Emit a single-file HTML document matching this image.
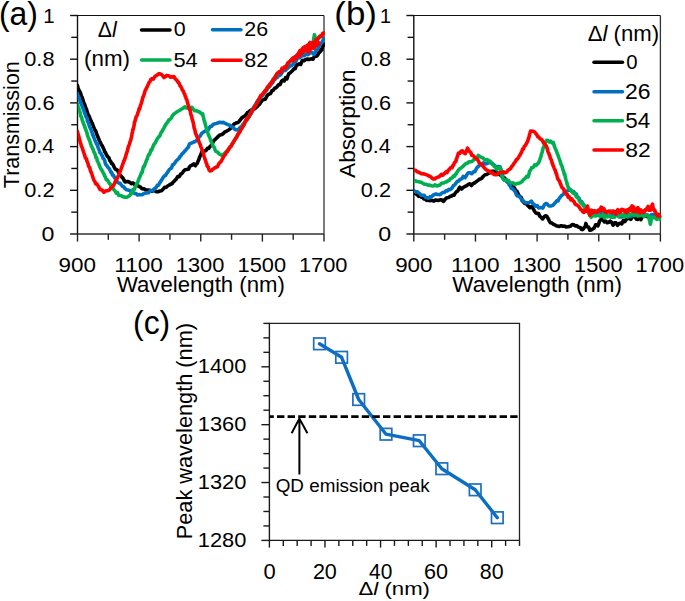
<!DOCTYPE html><html><head><meta charset="utf-8"><style>html,body{margin:0;padding:0;background:#fff;overflow:hidden}svg{display:block}text{font-family:"Liberation Sans",sans-serif}</style></head><body><svg width="685" height="601" viewBox="0 0 685 601"><rect width="685" height="601" fill="#fff"/><path d="M77.5,15.5 H324.0" stroke="#111" stroke-width="1.2" fill="none"/>
<path d="M324.0,15.5 V234.0" stroke="#333" stroke-width="1.3" fill="none"/>
<path d="M77.5,14.9 V234.0" stroke="#111" stroke-width="1.4" fill="none"/>
<path d="M77.5,234.0 H324.0" stroke="#333" stroke-width="1.5" fill="none"/>
<path d="M70.1,234.00 H77.5" stroke="#111" stroke-width="1.4" fill="none"/>
<path d="M71.3,212.15 H77.5" stroke="#111" stroke-width="1.4" fill="none"/>
<path d="M70.1,190.30 H77.5" stroke="#111" stroke-width="1.4" fill="none"/>
<path d="M71.3,168.45 H77.5" stroke="#111" stroke-width="1.4" fill="none"/>
<path d="M70.1,146.60 H77.5" stroke="#111" stroke-width="1.4" fill="none"/>
<path d="M71.3,124.75 H77.5" stroke="#111" stroke-width="1.4" fill="none"/>
<path d="M70.1,102.90 H77.5" stroke="#111" stroke-width="1.4" fill="none"/>
<path d="M71.3,81.05 H77.5" stroke="#111" stroke-width="1.4" fill="none"/>
<path d="M70.1,59.20 H77.5" stroke="#111" stroke-width="1.4" fill="none"/>
<path d="M71.3,37.35 H77.5" stroke="#111" stroke-width="1.4" fill="none"/>
<path d="M70.1,15.50 H77.5" stroke="#111" stroke-width="1.4" fill="none"/>
<path d="M77.50,234.0 V241.6" stroke="#222" stroke-width="1.4" fill="none"/>
<path d="M108.31,234.0 V239.8" stroke="#222" stroke-width="1.4" fill="none"/>
<path d="M139.12,234.0 V241.6" stroke="#222" stroke-width="1.4" fill="none"/>
<path d="M169.94,234.0 V239.8" stroke="#222" stroke-width="1.4" fill="none"/>
<path d="M200.75,234.0 V241.6" stroke="#222" stroke-width="1.4" fill="none"/>
<path d="M231.56,234.0 V239.8" stroke="#222" stroke-width="1.4" fill="none"/>
<path d="M262.38,234.0 V241.6" stroke="#222" stroke-width="1.4" fill="none"/>
<path d="M293.19,234.0 V239.8" stroke="#222" stroke-width="1.4" fill="none"/>
<path d="M324.00,234.0 V241.6" stroke="#222" stroke-width="1.4" fill="none"/>
<path d="M413.8,15.5 H660.4" stroke="#111" stroke-width="1.2" fill="none"/>
<path d="M660.4,15.5 V234.0" stroke="#333" stroke-width="1.3" fill="none"/>
<path d="M413.8,14.9 V234.0" stroke="#111" stroke-width="1.4" fill="none"/>
<path d="M413.8,234.0 H660.4" stroke="#333" stroke-width="1.5" fill="none"/>
<path d="M406.40000000000003,234.00 H413.8" stroke="#111" stroke-width="1.4" fill="none"/>
<path d="M407.6,212.15 H413.8" stroke="#111" stroke-width="1.4" fill="none"/>
<path d="M406.40000000000003,190.30 H413.8" stroke="#111" stroke-width="1.4" fill="none"/>
<path d="M407.6,168.45 H413.8" stroke="#111" stroke-width="1.4" fill="none"/>
<path d="M406.40000000000003,146.60 H413.8" stroke="#111" stroke-width="1.4" fill="none"/>
<path d="M407.6,124.75 H413.8" stroke="#111" stroke-width="1.4" fill="none"/>
<path d="M406.40000000000003,102.90 H413.8" stroke="#111" stroke-width="1.4" fill="none"/>
<path d="M407.6,81.05 H413.8" stroke="#111" stroke-width="1.4" fill="none"/>
<path d="M406.40000000000003,59.20 H413.8" stroke="#111" stroke-width="1.4" fill="none"/>
<path d="M407.6,37.35 H413.8" stroke="#111" stroke-width="1.4" fill="none"/>
<path d="M406.40000000000003,15.50 H413.8" stroke="#111" stroke-width="1.4" fill="none"/>
<path d="M413.80,234.0 V241.6" stroke="#222" stroke-width="1.4" fill="none"/>
<path d="M444.62,234.0 V239.8" stroke="#222" stroke-width="1.4" fill="none"/>
<path d="M475.45,234.0 V241.6" stroke="#222" stroke-width="1.4" fill="none"/>
<path d="M506.27,234.0 V239.8" stroke="#222" stroke-width="1.4" fill="none"/>
<path d="M537.10,234.0 V241.6" stroke="#222" stroke-width="1.4" fill="none"/>
<path d="M567.92,234.0 V239.8" stroke="#222" stroke-width="1.4" fill="none"/>
<path d="M598.75,234.0 V241.6" stroke="#222" stroke-width="1.4" fill="none"/>
<path d="M629.58,234.0 V239.8" stroke="#222" stroke-width="1.4" fill="none"/>
<path d="M660.40,234.0 V241.6" stroke="#222" stroke-width="1.4" fill="none"/>
<path d="M269.4,323.4 H519.5 V540.4" stroke="#222" stroke-width="1.3" fill="none"/>
<path d="M269.4,322.7 V540.4 H519.5" stroke="#1a1a1a" stroke-width="1.4" fill="none"/>
<path d="M261.4,540.40 H269.4" stroke="#1a1a1a" stroke-width="1.4" fill="none"/>
<path d="M263.4,525.93 H269.4" stroke="#1a1a1a" stroke-width="1.4" fill="none"/>
<path d="M263.4,511.47 H269.4" stroke="#1a1a1a" stroke-width="1.4" fill="none"/>
<path d="M263.4,497.00 H269.4" stroke="#1a1a1a" stroke-width="1.4" fill="none"/>
<path d="M261.4,482.53 H269.4" stroke="#1a1a1a" stroke-width="1.4" fill="none"/>
<path d="M263.4,468.07 H269.4" stroke="#1a1a1a" stroke-width="1.4" fill="none"/>
<path d="M263.4,453.60 H269.4" stroke="#1a1a1a" stroke-width="1.4" fill="none"/>
<path d="M263.4,439.13 H269.4" stroke="#1a1a1a" stroke-width="1.4" fill="none"/>
<path d="M261.4,424.67 H269.4" stroke="#1a1a1a" stroke-width="1.4" fill="none"/>
<path d="M263.4,410.20 H269.4" stroke="#1a1a1a" stroke-width="1.4" fill="none"/>
<path d="M263.4,395.73 H269.4" stroke="#1a1a1a" stroke-width="1.4" fill="none"/>
<path d="M263.4,381.27 H269.4" stroke="#1a1a1a" stroke-width="1.4" fill="none"/>
<path d="M261.4,366.80 H269.4" stroke="#1a1a1a" stroke-width="1.4" fill="none"/>
<path d="M263.4,352.33 H269.4" stroke="#1a1a1a" stroke-width="1.4" fill="none"/>
<path d="M263.4,337.87 H269.4" stroke="#1a1a1a" stroke-width="1.4" fill="none"/>
<path d="M263.4,323.40 H269.4" stroke="#1a1a1a" stroke-width="1.4" fill="none"/>
<path d="M269.40,540.4 V547.6" stroke="#1a1a1a" stroke-width="1.4" fill="none"/>
<path d="M283.29,540.4 V545.9" stroke="#1a1a1a" stroke-width="1.4" fill="none"/>
<path d="M297.19,540.4 V545.9" stroke="#1a1a1a" stroke-width="1.4" fill="none"/>
<path d="M311.08,540.4 V545.9" stroke="#1a1a1a" stroke-width="1.4" fill="none"/>
<path d="M324.98,540.4 V547.6" stroke="#1a1a1a" stroke-width="1.4" fill="none"/>
<path d="M338.87,540.4 V545.9" stroke="#1a1a1a" stroke-width="1.4" fill="none"/>
<path d="M352.77,540.4 V545.9" stroke="#1a1a1a" stroke-width="1.4" fill="none"/>
<path d="M366.66,540.4 V545.9" stroke="#1a1a1a" stroke-width="1.4" fill="none"/>
<path d="M380.56,540.4 V547.6" stroke="#1a1a1a" stroke-width="1.4" fill="none"/>
<path d="M394.45,540.4 V545.9" stroke="#1a1a1a" stroke-width="1.4" fill="none"/>
<path d="M408.34,540.4 V545.9" stroke="#1a1a1a" stroke-width="1.4" fill="none"/>
<path d="M422.24,540.4 V545.9" stroke="#1a1a1a" stroke-width="1.4" fill="none"/>
<path d="M436.13,540.4 V547.6" stroke="#1a1a1a" stroke-width="1.4" fill="none"/>
<path d="M450.03,540.4 V545.9" stroke="#1a1a1a" stroke-width="1.4" fill="none"/>
<path d="M463.92,540.4 V545.9" stroke="#1a1a1a" stroke-width="1.4" fill="none"/>
<path d="M477.82,540.4 V545.9" stroke="#1a1a1a" stroke-width="1.4" fill="none"/>
<path d="M491.71,540.4 V547.6" stroke="#1a1a1a" stroke-width="1.4" fill="none"/>
<path d="M505.61,540.4 V545.9" stroke="#1a1a1a" stroke-width="1.4" fill="none"/>
<path d="M519.50,540.4 V545.9" stroke="#1a1a1a" stroke-width="1.4" fill="none"/>
<defs><clipPath id="ca"><rect x="77.6" y="0" width="247.4" height="234"/></clipPath><clipPath id="cb"><rect x="413.9" y="0" width="247.4" height="234"/></clipPath></defs>
<g clip-path="url(#ca)">
<path d="M77.40,85.40 L78.05,87.78 L78.70,89.59 L79.35,90.63 L80.00,91.95 L80.65,93.52 L81.30,95.82 L81.86,96.81 L82.43,98.12 L82.99,100.45 L83.55,101.94 L84.12,103.66 L84.68,104.45 L85.25,106.43 L85.81,107.91 L86.37,108.71 L86.94,111.25 L87.50,112.66 L88.20,115.31 L88.90,115.82 L89.60,117.26 L90.30,119.56 L91.00,120.65 L91.70,122.62 L92.40,123.60 L93.10,125.50 L93.80,127.51 L94.49,128.98 L95.18,130.33 L95.87,131.36 L96.56,133.76 L97.24,135.21 L97.93,137.16 L98.62,138.54 L99.31,140.61 L100.00,141.67 L100.79,143.36 L101.58,145.16 L102.36,145.84 L103.15,147.75 L103.94,149.26 L104.72,152.07 L105.51,152.59 L106.30,154.53 L107.19,156.00 L108.07,157.03 L108.96,157.88 L109.84,160.63 L110.73,161.42 L111.61,163.47 L112.50,163.95 L113.55,165.76 L114.60,168.00 L115.65,169.47 L116.70,169.48 L117.75,170.85 L118.80,172.88 L119.83,174.66 L120.87,175.78 L121.90,177.25 L122.93,178.01 L123.97,180.19 L125.00,181.86 L126.58,181.58 L128.15,181.58 L129.73,182.42 L131.30,183.68 L132.87,182.97 L134.43,184.32 L136.00,184.40 L137.50,185.58 L139.00,186.28 L140.50,187.16 L142.00,188.65 L144.00,188.84 L146.00,190.03 L148.00,190.03 L150.00,190.36 L152.00,191.29 L154.00,190.18 L156.00,191.58 L158.00,191.68 L160.00,190.98 L161.53,190.80 L163.07,189.25 L164.60,187.27 L166.07,187.39 L167.53,186.01 L169.00,185.24 L170.47,184.22 L171.93,183.73 L173.40,181.95 L174.83,180.42 L176.27,179.16 L177.70,176.59 L179.20,176.67 L180.70,174.06 L182.13,173.35 L183.57,171.10 L185.00,169.71 L188.00,169.30 L188.70,169.00 L189.40,166.95 L190.87,165.56 L192.33,164.99 L193.80,163.82 L195.30,165.78 L196.27,164.08 L197.23,163.29 L198.20,160.82 L198.83,159.63 L199.47,157.68 L200.10,156.04 L200.73,155.06 L201.37,153.06 L202.00,151.59 L204.00,151.24 L206.00,150.57 L207.33,148.41 L208.67,148.47 L210.00,146.42 L211.00,145.59 L212.00,144.91 L213.00,142.18 L214.00,140.42 L215.33,139.35 L216.67,137.94 L218.00,136.61 L220.00,134.92 L222.00,134.54 L223.33,133.54 L224.67,132.09 L226.00,131.46 L227.33,130.73 L228.67,130.02 L230.00,128.80 L231.33,127.61 L232.67,125.80 L234.00,124.07 L236.00,123.05 L238.00,122.51 L239.33,121.16 L240.67,119.41 L242.00,117.72 L243.33,116.82 L244.67,116.17 L246.00,114.68 L247.33,112.76 L248.67,112.18 L250.00,110.57 L251.43,109.93 L252.87,109.79 L254.30,108.91 L255.65,108.01 L257.00,106.78 L258.35,105.19 L259.70,104.06 L261.07,101.78 L262.45,100.14 L263.82,99.60 L265.20,99.34 L266.55,96.83 L267.90,94.72 L269.25,94.07 L270.60,93.31 L271.95,90.73 L273.30,90.30 L274.65,88.24 L276.00,87.84 L277.38,86.22 L278.75,84.60 L280.12,84.68 L281.50,81.37 L282.85,80.03 L284.20,80.93 L285.55,77.62 L286.90,78.96 L287.93,75.77 L288.97,73.57 L290.00,73.00 L291.33,71.77 L292.67,70.49 L294.00,68.85 L295.25,68.61 L296.50,64.64 L297.75,64.81 L299.00,63.79 L300.67,64.46 L302.33,60.41 L304.00,60.73 L305.67,59.42 L307.33,59.13 L309.00,59.51 L311.00,58.83 L313.00,59.15 L314.33,56.52 L315.67,56.21 L317.00,55.94 L318.00,54.47 L319.00,52.23 L320.00,52.15 L321.00,49.26 L321.75,49.94 L322.50,47.12 L323.25,45.41 L324.00,44.00" stroke="#000000" stroke-width="3.6" fill="none" stroke-linejoin="round" stroke-linecap="round"/>
<path d="M77.40,93.80 L78.05,96.70 L78.70,96.94 L79.35,99.20 L80.00,100.81 L80.65,102.88 L81.30,103.50 L81.86,105.50 L82.43,106.84 L82.99,108.19 L83.55,109.81 L84.12,111.49 L84.68,113.11 L85.25,114.31 L85.81,116.48 L86.37,117.51 L86.94,117.69 L87.50,121.40 L88.07,122.12 L88.65,123.46 L89.22,125.49 L89.79,126.99 L90.36,128.42 L90.94,129.48 L91.51,131.52 L92.08,132.18 L92.65,135.19 L93.23,135.35 L93.80,137.40 L94.49,139.13 L95.18,140.85 L95.87,142.24 L96.56,144.23 L97.24,143.79 L97.93,147.12 L98.62,148.71 L99.31,150.20 L100.00,152.80 L100.79,153.11 L101.58,155.12 L102.36,155.70 L103.15,158.42 L103.94,159.03 L104.72,160.62 L105.51,164.16 L106.30,164.89 L107.19,166.02 L108.07,167.59 L108.96,168.26 L109.84,169.95 L110.73,172.18 L111.61,172.38 L112.50,175.07 L113.55,175.44 L114.60,177.76 L115.65,178.52 L116.70,181.36 L117.75,182.37 L118.80,182.97 L120.04,183.32 L121.28,184.92 L122.52,186.33 L123.76,186.89 L125.00,188.58 L126.58,189.74 L128.15,190.01 L129.73,190.61 L131.30,192.03 L132.90,192.18 L134.50,193.47 L136.00,193.45 L137.50,195.00 L139.00,194.62 L140.50,194.80 L142.00,194.81 L143.50,193.86 L145.00,193.13 L146.50,192.97 L148.50,192.68 L150.50,190.47 L152.50,190.81 L153.70,189.56 L154.90,188.36 L156.10,187.64 L157.30,185.37 L158.50,185.17 L159.48,183.22 L160.47,181.89 L161.45,180.23 L162.43,178.67 L163.42,177.07 L164.40,176.05 L165.40,175.66 L166.40,173.88 L167.40,172.53 L168.40,171.13 L169.40,169.35 L170.40,168.65 L171.53,167.90 L172.65,164.70 L173.78,164.27 L174.90,162.86 L175.90,161.24 L176.90,160.25 L177.90,159.31 L178.90,158.48 L179.90,156.77 L180.90,155.70 L182.10,153.83 L183.30,152.88 L184.50,151.35 L185.70,150.21 L186.90,148.63 L187.68,147.81 L188.45,146.80 L189.22,144.59 L190.00,143.40 L192.00,142.94 L194.00,141.98 L195.33,141.55 L196.67,140.30 L198.00,138.68 L199.00,137.08 L200.00,136.29 L201.00,134.57 L202.00,133.14 L203.77,131.84 L205.53,130.95 L207.30,129.18 L208.63,129.35 L209.97,126.85 L211.30,126.51 L213.07,124.51 L214.83,123.85 L216.60,123.36 L218.28,122.74 L219.95,122.28 L221.62,122.76 L223.30,122.33 L225.30,123.48 L227.30,124.42 L229.30,125.17 L231.30,126.35 L232.63,127.22 L233.97,128.37 L235.30,129.67 L238.00,129.90 L239.30,128.24 L240.60,126.98 L241.68,126.57 L242.76,124.65 L243.84,123.33 L244.92,121.99 L246.00,120.79 L247.00,119.19 L248.00,118.33 L249.00,116.78 L250.00,113.57 L250.72,113.43 L251.43,113.48 L252.15,109.85 L252.87,109.06 L253.58,108.04 L254.30,106.00 L255.44,105.17 L256.58,102.36 L257.72,100.87 L258.86,99.90 L260.00,98.13 L261.04,96.66 L262.08,96.18 L263.12,94.73 L264.16,93.30 L265.20,91.80 L266.28,90.73 L267.36,89.14 L268.44,87.43 L269.52,86.66 L270.60,85.19 L271.68,83.66 L272.76,82.59 L273.84,80.31 L274.92,79.41 L276.00,77.84 L277.25,77.49 L278.50,75.80 L279.75,75.33 L281.00,74.26 L282.48,71.70 L283.95,70.12 L285.42,70.39 L286.90,68.77 L288.42,67.62 L289.95,65.65 L291.48,65.73 L293.00,64.15 L294.25,63.07 L295.50,61.75 L296.75,59.53 L298.00,57.21 L299.50,57.78 L301.00,56.49 L302.50,55.58 L304.00,55.77 L306.00,54.17 L308.00,54.71 L310.00,52.90 L312.00,52.55 L314.00,54.41 L315.00,53.14 L316.00,49.99 L317.00,50.37 L318.00,48.09 L319.00,45.55 L320.00,45.16 L321.00,43.28 L322.00,42.36 L323.00,40.25 L324.00,38.00" stroke="#0070c0" stroke-width="3.6" fill="none" stroke-linejoin="round" stroke-linecap="round"/>
<path d="M77.40,104.20 L77.89,105.81 L78.38,107.95 L78.86,108.42 L79.35,110.95 L79.84,111.88 L80.33,113.44 L80.81,116.09 L81.30,116.78 L81.82,118.24 L82.33,120.18 L82.85,121.94 L83.37,122.92 L83.88,124.79 L84.40,125.56 L84.92,127.42 L85.43,128.95 L85.95,130.06 L86.47,131.53 L86.98,133.03 L87.50,135.28 L88.07,136.83 L88.65,138.28 L89.22,139.99 L89.79,140.80 L90.36,142.95 L90.94,144.63 L91.51,146.40 L92.08,147.12 L92.65,148.86 L93.23,149.57 L93.80,151.85 L94.49,152.62 L95.18,154.63 L95.87,157.52 L96.56,157.49 L97.24,160.61 L97.93,162.00 L98.62,163.30 L99.31,165.31 L100.00,166.96 L100.79,168.79 L101.58,169.71 L102.36,171.09 L103.15,172.65 L103.94,174.02 L104.72,176.05 L105.51,177.24 L106.30,179.73 L107.33,179.82 L108.37,181.75 L109.40,183.37 L110.43,184.35 L111.47,187.90 L112.50,187.30 L113.76,189.66 L115.02,190.84 L116.28,193.23 L117.54,192.71 L118.80,195.54 L120.73,195.47 L122.67,196.59 L124.60,197.16 L126.80,197.32 L129.00,195.93 L129.92,195.13 L130.83,194.01 L131.75,193.42 L132.67,189.96 L133.58,190.60 L134.50,188.97 L135.25,186.66 L136.00,185.45 L136.75,183.47 L137.50,182.92 L138.25,180.60 L139.00,178.79 L139.64,177.29 L140.29,175.80 L140.93,174.31 L141.57,172.46 L142.21,172.43 L142.86,168.94 L143.50,166.60 L144.06,166.84 L144.62,165.33 L145.19,164.09 L145.75,162.30 L146.31,160.83 L146.88,159.57 L147.44,158.38 L148.00,156.18 L148.75,154.71 L149.50,154.37 L150.25,152.17 L151.00,149.91 L151.75,150.06 L152.50,147.79 L153.40,145.63 L154.30,143.85 L155.20,143.11 L156.10,141.06 L157.00,139.47 L157.90,137.85 L158.80,136.75 L159.70,136.05 L160.60,133.78 L161.50,131.78 L162.22,131.33 L162.95,129.53 L163.68,128.42 L164.40,127.10 L165.53,124.92 L166.65,123.43 L167.78,121.98 L168.90,119.93 L170.03,119.33 L171.15,118.19 L172.28,116.09 L173.40,114.38 L174.90,113.42 L176.40,112.21 L177.90,111.25 L179.40,110.50 L181.17,109.25 L182.93,108.41 L184.70,106.81 L186.50,108.00 L188.30,108.07 L190.10,107.70 L191.90,107.35 L193.27,109.33 L194.63,110.72 L196.00,110.63 L198.00,111.51 L200.00,112.22 L201.35,113.73 L202.70,113.84 L203.09,116.35 L203.47,117.26 L203.86,119.43 L204.24,120.54 L204.63,121.97 L205.01,122.90 L205.40,124.86 L205.91,126.61 L206.43,128.62 L206.94,129.95 L207.46,131.02 L207.97,133.12 L208.49,134.95 L209.00,135.93 L209.62,137.30 L210.23,138.84 L210.85,140.96 L211.47,142.34 L212.08,143.12 L212.70,145.29 L213.52,146.34 L214.35,147.67 L215.18,150.14 L216.00,151.41 L217.65,152.14 L219.30,154.04 L222.00,155.55 L224.60,153.50 L225.68,152.32 L226.76,151.18 L227.84,149.55 L228.92,148.61 L230.00,147.41 L231.06,145.78 L232.12,143.90 L233.18,142.55 L234.24,140.77 L235.30,139.39 L236.18,137.84 L237.07,136.23 L237.95,134.54 L238.83,133.01 L239.72,131.68 L240.60,129.87 L241.50,128.52 L242.40,126.98 L243.30,125.31 L244.20,124.16 L245.10,122.26 L246.00,121.02 L247.00,119.00 L248.00,117.56 L249.00,116.65 L249.88,115.03 L250.77,113.32 L251.65,111.79 L252.53,109.95 L253.42,108.57 L254.30,106.94 L255.20,105.55 L256.10,104.20 L257.00,102.56 L257.90,101.09 L258.80,99.41 L259.70,97.93 L260.80,96.58 L261.90,95.08 L263.00,93.87 L264.10,92.11 L265.20,91.08 L266.28,89.19 L267.36,88.04 L268.44,86.30 L269.52,85.21 L270.60,83.52 L271.51,82.20 L272.43,80.90 L273.34,79.33 L274.26,77.92 L275.17,76.41 L276.09,75.54 L277.00,73.90 L278.25,72.91 L279.50,72.00 L280.75,71.30 L282.00,69.74 L283.25,68.79 L284.50,67.44 L285.75,66.33 L287.00,64.73 L288.00,63.69 L289.00,62.63 L290.00,61.48 L291.00,60.24 L292.67,58.87 L294.33,58.01 L296.00,56.98 L297.00,55.42 L298.00,54.03 L299.00,52.99 L300.00,51.54 L301.67,50.31 L303.33,49.35 L305.00,47.85 L306.67,47.08 L308.33,46.00 L310.00,44.99 L311.50,44.07 L313.00,43.03 L313.30,41.34 L313.60,39.64 L313.90,38.19 L314.20,36.15 L314.50,34.65 L314.88,36.22 L315.25,37.70 L315.62,39.49 L316.00,40.87 L317.33,39.84 L318.67,38.21 L320.00,36.93 L321.33,35.72 L322.67,34.46 L324.00,33.00" stroke="#00b050" stroke-width="3.6" fill="none" stroke-linejoin="round" stroke-linecap="round"/>
<path d="M77.40,131.30 L77.83,132.93 L78.27,134.75 L78.70,135.90 L79.13,137.92 L79.57,139.82 L80.00,141.17 L80.43,143.36 L80.87,143.75 L81.30,145.83 L81.86,146.97 L82.43,148.44 L82.99,150.26 L83.55,151.98 L84.12,153.60 L84.68,155.16 L85.25,157.54 L85.81,158.38 L86.37,158.67 L86.94,161.08 L87.50,162.19 L88.07,163.83 L88.65,166.33 L89.22,167.16 L89.79,167.89 L90.36,170.61 L90.94,171.90 L91.51,173.05 L92.08,174.77 L92.65,176.51 L93.23,178.40 L93.80,179.79 L94.83,181.54 L95.87,183.92 L96.90,184.10 L97.93,185.60 L98.97,187.38 L100.00,189.55 L102.00,189.90 L104.00,192.22 L106.00,190.70 L108.00,190.68 L109.50,189.77 L111.00,187.97 L112.50,186.69 L113.29,185.73 L114.08,184.36 L114.86,182.56 L115.65,180.86 L116.44,180.17 L117.22,178.20 L118.01,176.38 L118.80,175.61 L119.36,173.03 L119.93,172.05 L120.49,170.78 L121.05,168.92 L121.62,167.12 L122.18,166.07 L122.75,164.10 L123.31,162.56 L123.87,160.82 L124.44,160.47 L125.00,158.03 L125.48,157.28 L125.97,155.29 L126.45,153.37 L126.94,152.23 L127.42,150.44 L127.91,148.77 L128.39,146.41 L128.88,145.54 L129.36,144.35 L129.85,142.54 L130.33,141.20 L130.82,139.85 L131.30,137.71 L131.67,136.82 L132.04,133.40 L132.41,132.37 L132.78,129.56 L133.15,129.56 L133.52,127.53 L133.89,126.65 L134.26,123.96 L134.63,121.46 L135.00,121.44 L135.59,118.53 L136.18,116.97 L136.76,115.91 L137.35,114.71 L137.94,112.55 L138.52,111.29 L139.11,108.66 L139.70,108.87 L140.20,106.38 L140.70,104.88 L141.20,103.52 L141.70,101.72 L142.20,100.15 L142.70,97.99 L143.20,96.81 L143.70,95.49 L144.20,94.20 L144.70,92.03 L145.20,90.55 L145.97,89.13 L146.74,87.70 L147.51,85.97 L148.29,84.20 L149.06,82.53 L149.83,81.80 L150.60,79.85 L151.95,78.61 L153.30,79.24 L154.65,76.84 L156.00,75.73 L157.50,74.78 L159.00,73.59 L160.50,74.07 L161.67,74.62 L162.83,75.86 L164.00,77.51 L165.40,76.66 L166.80,75.42 L168.60,75.73 L170.40,77.20 L172.20,76.86 L174.00,76.49 L175.06,78.64 L176.12,79.60 L177.18,80.80 L178.24,82.38 L179.30,83.42 L180.07,85.85 L180.84,86.49 L181.61,88.05 L182.39,90.05 L183.16,90.73 L183.93,93.06 L184.70,94.07 L185.22,96.28 L185.74,96.86 L186.26,99.08 L186.78,99.66 L187.30,101.83 L187.82,103.65 L188.34,105.48 L188.86,107.81 L189.38,109.33 L189.90,109.33 L190.33,111.34 L190.76,114.05 L191.19,115.36 L191.61,116.17 L192.04,118.81 L192.47,119.72 L192.90,121.57 L193.33,123.09 L193.76,125.30 L194.19,128.27 L194.61,129.05 L195.04,130.52 L195.47,133.54 L195.90,133.77 L196.58,135.59 L197.27,137.20 L197.95,139.21 L198.63,140.51 L199.32,143.06 L200.00,143.85 L200.55,145.95 L201.10,147.45 L201.65,148.57 L202.20,150.18 L202.75,152.31 L203.30,152.85 L203.87,155.72 L204.44,157.47 L205.01,159.21 L205.59,160.82 L206.16,162.75 L206.73,164.11 L207.30,166.32 L208.20,166.95 L209.10,169.99 L210.00,170.86 L211.33,170.64 L212.67,169.27 L214.00,168.39 L216.60,166.91 L217.60,166.65 L218.60,164.11 L219.60,162.72 L220.60,162.11 L221.60,160.46 L222.60,158.67 L223.60,156.49 L224.60,154.98 L225.50,154.42 L226.40,152.12 L227.30,151.61 L228.20,150.33 L229.10,148.70 L230.00,146.70 L231.06,146.65 L232.12,144.16 L233.18,142.60 L234.24,140.71 L235.30,138.83 L236.18,137.62 L237.07,136.30 L237.95,134.23 L238.83,133.16 L239.72,132.12 L240.60,130.22 L241.50,128.40 L242.40,127.42 L243.30,125.81 L244.20,124.25 L245.10,121.85 L246.00,119.80 L247.00,119.70 L248.00,117.93 L249.00,116.32 L249.88,115.18 L250.77,113.14 L251.65,111.49 L252.53,111.13 L253.42,107.88 L254.30,107.52 L255.20,106.09 L256.10,104.95 L257.00,102.68 L257.90,101.29 L258.80,99.06 L259.70,98.02 L260.80,95.51 L261.90,94.84 L263.00,93.67 L264.10,92.19 L265.20,90.56 L266.28,89.92 L267.36,87.09 L268.44,86.49 L269.52,84.76 L270.60,83.52 L271.51,82.17 L272.43,81.76 L273.34,78.90 L274.26,78.74 L275.17,77.41 L276.09,75.29 L277.00,73.70 L278.25,72.39 L279.50,71.57 L280.75,72.63 L282.00,68.28 L283.25,69.11 L284.50,66.95 L285.75,67.76 L287.00,65.25 L288.00,62.68 L289.00,62.09 L290.00,61.41 L291.00,60.10 L292.67,58.25 L294.33,57.78 L296.00,56.64 L297.00,55.89 L298.00,54.22 L299.00,52.68 L300.00,50.53 L301.25,50.63 L302.50,48.55 L303.75,47.34 L305.00,46.66 L306.67,45.74 L308.33,44.76 L310.00,42.46 L311.67,44.08 L313.33,42.50 L315.00,42.05 L316.25,39.44 L317.50,39.10 L318.75,37.41 L320.00,36.02 L321.33,36.43 L322.67,33.53 L324.00,33.00" stroke="#ff0000" stroke-width="3.6" fill="none" stroke-linejoin="round" stroke-linecap="round"/>
<path d="M293.00,60.00 L294.17,58.24 L295.33,57.63 L296.50,56.52 L297.67,55.74 L298.83,55.58 L300.00,52.63 L301.25,52.86 L302.50,51.86 L303.75,50.67 L305.00,50.41 L306.67,49.83 L308.33,51.14 L310.00,48.74 L311.67,47.66 L313.33,47.53 L315.00,45.16 L316.00,44.52 L317.00,44.44 L318.00,43.00" stroke="#ff0000" stroke-width="5" fill="none" stroke-linejoin="round" stroke-linecap="round"/>
</g><g clip-path="url(#cb)">
<path d="M414.00,193.20 L415.65,193.61 L417.30,194.63 L418.65,196.21 L420.00,195.40 L421.35,197.15 L422.70,196.77 L424.02,199.05 L425.35,199.20 L426.68,200.38 L428.00,200.05 L429.50,200.67 L431.00,200.51 L432.50,200.46 L434.00,201.07 L435.50,200.07 L437.00,200.22 L438.50,200.45 L440.00,199.83 L441.75,199.84 L443.50,201.39 L445.25,199.18 L447.00,197.71 L448.53,197.48 L450.07,196.54 L451.60,196.01 L452.77,195.06 L453.93,195.28 L455.10,193.31 L456.04,192.23 L456.98,191.32 L457.92,190.83 L458.86,188.55 L459.80,187.19 L461.55,189.04 L463.30,187.37 L464.43,186.75 L465.57,186.10 L466.70,185.74 L468.27,184.33 L469.83,183.79 L471.40,185.53 L472.60,184.04 L473.80,183.21 L475.00,182.73 L476.65,181.36 L478.30,180.15 L479.43,178.95 L480.57,178.98 L481.70,178.25 L483.35,176.27 L485.00,174.77 L486.65,174.52 L488.30,173.54 L489.70,171.95 L491.10,171.40 L492.50,171.32 L495.00,171.65 L496.26,172.34 L497.52,173.41 L498.78,174.08 L500.04,174.90 L501.30,174.73 L502.42,177.46 L503.53,177.57 L504.65,177.91 L505.77,179.72 L506.88,180.27 L508.00,181.01 L509.06,182.72 L510.12,184.53 L511.18,184.88 L512.24,186.59 L513.30,188.08 L514.18,187.71 L515.07,189.17 L515.95,191.04 L516.83,191.01 L517.72,192.95 L518.60,194.95 L519.50,196.15 L520.40,197.26 L521.30,197.35 L522.20,200.81 L523.10,201.24 L524.00,202.68 L525.00,203.55 L526.00,203.44 L527.00,204.58 L528.00,205.69 L529.95,207.61 L531.90,206.58 L532.70,208.06 L533.50,209.23 L534.30,210.83 L535.10,211.97 L535.90,213.03 L537.23,213.40 L538.57,213.60 L539.90,216.38 L541.25,217.43 L542.60,218.92 L543.70,217.35 L544.80,216.19 L545.90,215.81 L546.75,216.15 L547.60,217.73 L548.45,219.07 L549.30,221.04 L550.60,222.85 L551.90,223.08 L553.20,224.17 L554.53,224.62 L555.87,225.54 L557.20,226.08 L559.20,226.46 L561.20,225.69 L562.85,226.17 L564.50,226.01 L566.15,226.94 L567.80,226.73 L569.27,226.42 L570.75,226.08 L572.23,224.60 L573.70,224.73 L575.17,225.91 L576.63,225.66 L578.10,226.94 L579.17,227.24 L580.25,227.44 L581.33,229.24 L582.40,229.69 L583.28,228.97 L584.16,227.51 L585.04,226.85 L585.92,223.46 L586.80,226.08 L587.52,226.90 L588.25,226.83 L588.98,227.81 L589.70,230.10 L591.20,229.96 L592.70,228.98 L594.13,227.99 L595.57,224.89 L597.00,224.68 L597.88,225.75 L598.76,223.60 L599.64,220.85 L600.52,220.28 L601.40,218.60 L602.87,219.45 L604.33,221.90 L605.80,221.10 L607.25,222.69 L608.70,222.22 L610.15,221.06 L611.60,222.21 L613.08,225.24 L614.55,222.80 L616.02,222.89 L617.50,225.33 L618.95,223.73 L620.40,223.09 L621.85,223.89 L623.30,220.39 L624.77,221.66 L626.25,219.58 L627.73,218.54 L629.20,218.35 L630.63,219.42 L632.07,217.50 L633.50,215.22 L634.97,216.38 L636.43,219.30 L637.90,219.34 L639.37,216.90 L640.83,219.63 L642.30,216.56 L643.77,215.34 L645.23,215.84 L646.70,216.36 L648.47,217.15 L650.23,216.78 L652.00,215.61 L653.60,215.68 L655.20,215.06 L656.80,216.53 L658.40,216.25 L660.00,217.00" stroke="#000000" stroke-width="3.6" fill="none" stroke-linejoin="round" stroke-linecap="round"/>
<path d="M414.00,190.60 L415.65,191.85 L417.30,191.71 L418.65,192.86 L420.00,193.94 L421.35,195.29 L422.70,195.20 L424.17,195.40 L425.63,197.42 L427.10,197.70 L428.58,198.16 L430.05,196.67 L431.52,196.94 L433.00,195.23 L434.40,194.53 L435.80,194.04 L437.20,194.34 L438.60,194.48 L440.00,194.59 L441.45,193.53 L442.90,192.43 L444.35,192.45 L445.80,190.88 L447.25,190.95 L448.70,189.42 L450.15,189.65 L451.60,188.50 L452.57,187.12 L453.53,185.36 L454.50,185.08 L455.47,183.92 L456.43,182.39 L457.40,181.29 L458.56,181.32 L459.72,179.56 L460.88,179.06 L462.04,178.62 L463.20,176.26 L465.00,177.59 L466.10,176.07 L467.20,174.11 L468.30,172.82 L470.00,172.69 L471.70,173.77 L474.20,171.21 L475.03,171.57 L475.87,169.78 L476.70,167.96 L477.80,166.95 L478.90,165.92 L480.00,164.88 L481.65,164.60 L483.30,162.88 L485.00,163.85 L486.70,163.79 L488.35,162.77 L490.00,162.81 L491.65,163.08 L493.30,164.23 L494.43,165.28 L495.57,166.84 L496.70,166.67 L498.35,166.62 L500.00,166.72 L500.41,167.96 L500.82,168.86 L501.24,171.69 L501.65,171.79 L502.06,173.16 L502.48,174.44 L502.89,176.50 L503.30,178.98 L504.30,180.18 L505.30,180.31 L506.30,181.15 L507.30,182.13 L508.30,182.80 L509.30,185.01 L510.30,185.94 L511.30,188.37 L512.30,188.52 L513.30,189.50 L514.30,190.48 L515.30,191.91 L516.30,194.51 L517.30,195.77 L518.63,196.16 L519.97,197.10 L521.30,199.14 L522.30,199.82 L523.30,201.11 L524.30,201.99 L525.30,202.61 L528.00,202.73 L529.10,202.80 L530.20,201.92 L531.30,201.09 L532.40,202.81 L533.50,204.13 L534.60,204.75 L535.93,206.16 L537.27,205.64 L538.60,207.94 L540.60,207.58 L542.60,208.11 L543.42,206.95 L544.25,204.83 L545.08,204.09 L545.90,203.56 L547.03,203.83 L548.17,205.24 L549.30,205.99 L551.25,205.95 L553.20,205.15 L554.53,203.45 L555.87,202.02 L557.20,200.48 L558.05,200.88 L558.90,199.07 L559.75,197.80 L560.60,196.74 L561.67,195.31 L562.75,194.90 L563.83,193.64 L564.90,190.97 L566.37,191.35 L567.83,190.69 L569.30,189.74 L570.77,190.45 L572.23,191.75 L573.70,191.56 L574.58,193.17 L575.46,194.24 L576.34,194.12 L577.22,196.94 L578.10,197.31 L578.96,198.24 L579.82,199.99 L580.68,201.88 L581.54,201.52 L582.40,202.76 L583.15,204.56 L583.90,204.75 L584.65,206.36 L585.40,208.25 L586.52,210.05 L587.64,211.02 L588.76,212.45 L589.88,213.84 L591.00,213.61 L592.50,213.77 L594.00,213.88 L595.50,213.96 L597.00,215.36 L598.50,215.21 L600.00,212.62 L601.43,215.09 L602.86,213.82 L604.29,213.91 L605.71,216.26 L607.14,216.43 L608.57,216.44 L610.00,216.13 L611.43,217.17 L612.86,214.46 L614.29,216.27 L615.71,214.89 L617.14,214.95 L618.57,214.01 L620.00,216.91 L621.43,217.06 L622.86,216.17 L624.29,214.76 L625.71,215.39 L627.14,214.18 L628.57,214.84 L630.00,216.40 L631.43,216.34 L632.86,215.34 L634.29,215.30 L635.71,214.33 L637.14,214.64 L638.57,214.00 L640.00,214.46 L641.43,213.58 L642.86,215.22 L644.29,214.23 L645.71,214.77 L647.14,214.61 L648.57,216.28 L650.00,215.85 L651.43,214.57 L652.86,214.72 L654.29,216.40 L655.71,216.26 L657.14,216.23 L658.57,216.93 L660.00,217.00" stroke="#0070c0" stroke-width="3.6" fill="none" stroke-linejoin="round" stroke-linecap="round"/>
<path d="M414.00,180.60 L415.65,180.82 L417.30,181.56 L418.65,181.69 L420.00,182.14 L421.35,182.33 L422.70,183.19 L424.47,184.29 L426.23,184.38 L428.00,185.12 L429.77,185.16 L431.53,185.66 L433.30,185.99 L435.07,184.87 L436.83,185.93 L438.60,185.55 L439.95,185.05 L441.30,183.45 L442.65,182.93 L444.00,182.86 L445.32,182.24 L446.65,181.80 L447.98,180.80 L449.30,180.26 L450.36,178.74 L451.42,178.27 L452.48,177.38 L453.54,175.91 L454.60,176.16 L455.48,174.46 L456.37,173.67 L457.25,171.64 L458.13,170.46 L459.02,169.54 L459.90,168.55 L461.25,167.92 L462.60,166.72 L463.95,165.38 L465.30,164.12 L466.40,163.29 L467.50,163.11 L469.15,161.70 L470.80,161.82 L472.50,161.06 L474.20,159.26 L475.57,158.79 L476.93,158.19 L478.30,155.29 L480.00,156.74 L481.70,157.45 L483.07,157.92 L484.43,159.42 L485.80,159.97 L487.20,159.53 L488.60,160.95 L490.00,161.13 L491.10,162.67 L492.20,164.32 L493.30,165.18 L494.43,166.46 L495.57,167.15 L496.70,169.51 L498.35,168.04 L500.00,167.27 L500.28,168.40 L500.57,170.08 L500.85,171.83 L501.13,174.28 L501.42,174.15 L501.70,175.97 L502.80,177.92 L503.90,179.62 L505.00,180.29 L506.65,179.90 L508.30,180.44 L510.00,182.68 L511.70,182.93 L513.15,182.89 L514.60,184.09 L516.40,183.92 L518.20,183.21 L520.00,183.02 L521.00,182.12 L522.00,181.70 L523.00,180.21 L524.00,179.16 L525.33,178.31 L526.67,176.38 L528.00,176.94 L528.52,175.44 L529.04,173.88 L529.56,171.29 L530.08,170.62 L530.60,170.02 L531.60,167.69 L532.60,167.51 L533.60,167.11 L534.60,164.94 L535.93,165.51 L537.27,164.08 L538.60,162.82 L539.14,161.48 L539.68,160.06 L540.22,158.22 L540.76,157.15 L541.30,154.67 L541.73,153.23 L542.17,152.39 L542.60,150.31 L543.03,148.29 L543.47,147.64 L543.90,146.33 L544.58,144.05 L545.25,142.26 L545.92,141.56 L546.60,140.23 L547.93,140.58 L549.27,141.87 L550.60,141.09 L551.90,142.93 L553.20,142.37 L553.74,143.93 L554.28,145.96 L554.82,147.52 L555.36,148.71 L555.90,149.77 L556.40,151.01 L556.90,152.35 L557.40,153.90 L557.90,154.86 L558.40,156.43 L558.90,157.91 L559.40,158.96 L559.90,160.68 L560.34,161.92 L560.79,163.97 L561.23,164.46 L561.68,165.42 L562.12,166.78 L562.57,168.29 L563.01,170.10 L563.46,170.80 L563.90,172.49 L564.29,174.62 L564.68,173.82 L565.07,175.94 L565.46,178.02 L565.85,179.50 L566.24,180.82 L566.63,181.88 L567.02,183.83 L567.41,185.04 L567.80,186.04 L568.68,188.68 L569.56,188.80 L570.44,189.50 L571.32,190.89 L572.20,191.99 L573.30,193.17 L574.40,192.94 L575.50,195.16 L576.60,197.00 L577.48,197.08 L578.36,198.79 L579.24,200.46 L580.12,201.57 L581.00,203.05 L581.88,202.63 L582.76,204.48 L583.64,205.67 L584.52,207.33 L585.40,209.18 L586.23,206.93 L587.06,211.47 L587.89,210.33 L588.71,213.39 L589.54,212.57 L590.37,215.22 L591.20,217.28 L592.66,215.77 L594.12,215.77 L595.58,216.02 L597.04,215.13 L598.50,214.62 L599.96,216.24 L601.42,215.96 L602.88,214.92 L604.34,217.81 L605.80,214.47 L607.26,216.60 L608.72,215.82 L610.18,216.46 L611.64,217.25 L613.10,217.10 L614.56,217.33 L616.02,215.25 L617.48,215.12 L618.94,216.89 L620.40,215.33 L621.86,215.14 L623.32,214.60 L624.78,216.92 L626.24,216.31 L627.70,216.83 L629.16,214.36 L630.62,214.90 L632.08,213.57 L633.54,214.99 L635.00,215.43 L636.46,213.50 L637.92,216.00 L639.38,215.79 L640.84,215.04 L642.30,213.73 L643.85,216.77 L645.40,215.41 L646.95,214.96 L648.50,215.86 L648.86,217.33 L649.22,219.77 L649.58,218.96 L649.94,222.36 L650.30,224.14 L650.72,222.66 L651.15,219.74 L651.58,217.78 L652.00,217.92 L653.70,217.45 L655.40,217.81 L656.87,219.45 L658.33,218.40 L659.80,219.10" stroke="#00b050" stroke-width="3.6" fill="none" stroke-linejoin="round" stroke-linecap="round"/>
<path d="M414.00,170.00 L415.65,170.49 L417.30,171.87 L418.63,172.05 L419.97,172.96 L421.30,173.62 L423.30,173.84 L425.30,174.34 L426.63,174.86 L427.97,175.39 L429.30,176.17 L430.63,176.71 L431.97,178.10 L433.30,178.93 L434.62,178.98 L435.95,177.91 L437.28,177.29 L438.60,176.99 L439.95,176.00 L441.30,174.40 L442.65,175.24 L444.00,173.82 L445.00,173.17 L446.00,171.92 L447.00,172.54 L448.00,170.64 L449.33,169.37 L450.67,167.67 L452.00,167.81 L452.80,165.56 L453.60,165.27 L454.40,162.56 L455.20,161.95 L456.00,161.14 L456.43,158.88 L456.87,158.05 L457.30,156.74 L457.73,155.81 L458.17,153.74 L458.60,153.02 L459.93,153.30 L461.27,151.02 L462.60,150.92 L463.95,152.95 L465.30,153.72 L465.85,151.74 L466.40,151.55 L466.95,149.69 L467.50,148.14 L468.35,149.78 L469.20,151.24 L470.03,151.84 L470.87,152.43 L471.70,155.33 L473.35,155.76 L475.00,157.59 L476.10,158.87 L477.20,159.11 L478.30,160.69 L479.43,163.17 L480.57,164.07 L481.70,164.22 L482.80,166.06 L483.90,167.27 L485.00,168.67 L486.65,170.01 L488.30,170.83 L489.70,171.58 L491.10,172.99 L492.50,172.62 L493.90,174.53 L495.30,174.67 L496.70,174.80 L497.95,173.51 L499.20,172.68 L501.70,172.60 L503.35,171.74 L505.00,172.75 L506.65,172.06 L508.30,169.97 L509.55,169.23 L510.80,168.34 L511.63,166.48 L512.47,165.82 L513.30,164.67 L514.15,163.01 L515.00,162.21 L516.20,159.84 L517.40,159.14 L518.60,157.25 L519.27,156.05 L519.93,155.11 L520.60,153.72 L521.27,152.74 L521.93,151.31 L522.60,149.02 L523.50,148.97 L524.40,146.15 L525.30,145.58 L525.97,144.45 L526.65,142.93 L527.33,141.90 L528.00,140.33 L528.43,138.26 L528.87,137.63 L529.30,135.63 L529.73,133.64 L530.17,132.59 L530.60,130.99 L533.30,131.18 L534.60,132.01 L535.90,133.69 L536.80,134.64 L537.70,136.69 L538.60,136.82 L539.93,138.76 L541.27,139.16 L542.60,140.88 L543.40,142.83 L544.20,142.79 L545.00,144.39 L545.80,145.20 L546.60,146.64 L547.05,148.05 L547.50,149.72 L547.95,151.47 L548.40,152.79 L548.85,153.42 L549.30,155.08 L549.79,155.58 L550.27,157.95 L550.76,158.85 L551.25,159.75 L551.74,161.25 L552.23,163.24 L552.71,164.33 L553.20,165.93 L553.70,166.71 L554.20,168.35 L554.70,169.49 L555.20,170.17 L555.70,172.21 L556.20,173.56 L556.70,174.61 L557.20,176.70 L557.77,178.72 L558.34,179.68 L558.91,180.31 L559.49,181.02 L560.06,182.85 L560.63,183.95 L561.20,185.68 L562.00,187.53 L562.80,188.21 L563.60,188.84 L564.40,191.57 L565.20,192.23 L566.13,194.09 L567.07,194.15 L568.00,197.07 L568.93,196.38 L569.87,198.27 L570.80,199.81 L571.88,199.01 L572.95,200.85 L574.02,201.36 L575.10,203.97 L576.20,204.73 L577.30,205.16 L578.40,206.04 L579.50,207.31 L580.60,209.39 L581.70,209.99 L582.80,211.69 L583.90,212.33 L584.80,210.26 L585.70,211.31 L586.60,208.62 L587.50,206.06 L587.94,207.85 L588.38,210.82 L588.82,211.83 L589.26,211.40 L589.70,215.34 L591.17,212.70 L592.63,213.06 L594.10,210.69 L595.57,210.95 L597.03,212.06 L598.50,210.00 L599.40,210.07 L600.30,209.27 L601.20,207.19 L602.10,208.03 L603.02,208.41 L603.95,208.78 L604.88,210.93 L605.80,212.36 L607.25,212.41 L608.70,211.34 L610.15,212.36 L611.60,212.16 L613.08,211.00 L614.55,211.88 L616.02,214.26 L617.50,211.88 L618.97,212.05 L620.43,212.15 L621.90,209.26 L623.33,210.32 L624.77,210.38 L626.20,212.27 L627.38,209.80 L628.56,210.45 L629.74,208.40 L630.92,208.59 L632.10,205.83 L633.55,207.15 L635.00,209.75 L636.45,210.19 L637.90,207.61 L639.38,211.96 L640.85,209.99 L642.32,211.73 L643.80,212.04 L645.23,209.98 L646.67,208.81 L648.10,206.44 L649.57,207.65 L651.03,207.97 L652.50,204.15 L653.08,207.79 L653.66,208.90 L654.24,210.55 L654.82,210.16 L655.40,212.49 L656.50,213.73 L657.60,215.96 L658.70,214.44 L659.80,216.20" stroke="#ff0000" stroke-width="3.6" fill="none" stroke-linejoin="round" stroke-linecap="round"/>
<path d="M590.00,211.00 L591.43,210.18 L592.86,211.04 L594.29,211.82 L595.71,211.94 L597.14,211.59 L598.57,210.61 L600.00,210.76 L601.50,210.49 L603.00,209.83 L604.50,210.69 L606.00,212.01 L607.50,211.64 L609.00,211.37 L610.50,210.97 L612.00,211.93 L613.44,211.43 L614.89,211.81 L616.33,212.05 L617.78,209.74 L619.22,211.37 L620.67,210.17 L622.11,210.48 L623.56,210.12 L625.00,211.88 L626.50,211.58 L628.00,211.50 L629.50,210.56 L631.00,210.06 L632.50,210.95 L634.00,211.46 L635.50,211.29 L637.00,211.95 L638.50,211.17 L640.00,212.93 L641.50,211.71 L643.00,212.46 L644.50,210.76 L646.00,210.07 L647.50,209.26 L649.00,210.27 L650.50,210.14 L652.00,209.00" stroke="#ff0000" stroke-width="3.6" fill="none" stroke-linejoin="round" stroke-linecap="round"/>
</g>
<path d="M141.5,29.9 H170" stroke="#000" stroke-width="3.5" stroke-linecap="round"/>
<path d="M212.5,29.7 H241" stroke="#0070c0" stroke-width="3.5" stroke-linecap="round"/>
<path d="M141.5,60.1 H170" stroke="#00b050" stroke-width="3.5" stroke-linecap="round"/>
<path d="M212.5,60.3 H241" stroke="#ff0000" stroke-width="3.5" stroke-linecap="round"/>
<path d="M594,62.3 H622.5" stroke="#000" stroke-width="3.5" stroke-linecap="round"/>
<path d="M594,91.8 H622.5" stroke="#0070c0" stroke-width="3.5" stroke-linecap="round"/>
<path d="M594,120.7 H622.5" stroke="#00b050" stroke-width="3.5" stroke-linecap="round"/>
<path d="M594,149.9 H622.5" stroke="#ff0000" stroke-width="3.5" stroke-linecap="round"/>
<path d="M319.5,343.8 L341.6,357.3 L358.7,399.5 L386.0,434.2 L419.3,440.7 L441.8,468.7 L475.2,489.8 L497.3,517.7" stroke="#0a6ec4" stroke-width="3.4" fill="none" stroke-linejoin="round" stroke-linecap="round"/>
<rect x="313.70" y="338.00" width="11.6" height="11.6" fill="none" stroke="#1f6dbd" stroke-width="1.7"/>
<rect x="335.80" y="351.50" width="11.6" height="11.6" fill="none" stroke="#1f6dbd" stroke-width="1.7"/>
<rect x="352.90" y="393.70" width="11.6" height="11.6" fill="none" stroke="#1f6dbd" stroke-width="1.7"/>
<rect x="380.20" y="428.40" width="11.6" height="11.6" fill="none" stroke="#1f6dbd" stroke-width="1.7"/>
<rect x="413.50" y="434.90" width="11.6" height="11.6" fill="none" stroke="#1f6dbd" stroke-width="1.7"/>
<rect x="436.00" y="462.90" width="11.6" height="11.6" fill="none" stroke="#1f6dbd" stroke-width="1.7"/>
<rect x="469.40" y="484.00" width="11.6" height="11.6" fill="none" stroke="#1f6dbd" stroke-width="1.7"/>
<rect x="491.50" y="511.90" width="11.6" height="11.6" fill="none" stroke="#1f6dbd" stroke-width="1.7"/>
<path d="M269.4,416.6 H519.5" stroke="#000" stroke-width="2.6" stroke-dasharray="7.4 3.2" stroke-dashoffset="3.0" fill="none"/>
<path d="M299.4,474.5 V418.5 M291.6,433.2 L299.4,418.5 L307.4,433.2" stroke="#000" stroke-width="2" fill="none" stroke-linejoin="miter"/><g font-family='"Liberation Sans", sans-serif' fill="#000"><text x="-1.100" y="24.825" font-size="33.269" textLength="38.947" lengthAdjust="spacingAndGlyphs">(a)</text>
<text x="334.350" y="24.925" font-size="33.272" textLength="42.609" lengthAdjust="spacingAndGlyphs">(b)</text>
<text x="133.000" y="334.000" font-size="33.537" textLength="37.262" lengthAdjust="spacingAndGlyphs">(c)</text>
<text x="43.300" y="22.550" font-size="21.000" textLength="11.362" lengthAdjust="spacingAndGlyphs">1</text>
<text x="24.250" y="66.100" font-size="21.004" textLength="30.235" lengthAdjust="spacingAndGlyphs">0.8</text>
<text x="24.250" y="109.700" font-size="21.004" textLength="30.235" lengthAdjust="spacingAndGlyphs">0.6</text>
<text x="24.250" y="153.300" font-size="21.004" textLength="29.974" lengthAdjust="spacingAndGlyphs">0.4</text>
<text x="24.250" y="196.900" font-size="21.004" textLength="30.239" lengthAdjust="spacingAndGlyphs">0.2</text>
<text x="41.600" y="240.500" font-size="21.004" textLength="12.904" lengthAdjust="spacingAndGlyphs">0</text>
<text x="379.900" y="22.550" font-size="21.000" textLength="11.037" lengthAdjust="spacingAndGlyphs">1</text>
<text x="360.850" y="66.100" font-size="21.004" textLength="30.237" lengthAdjust="spacingAndGlyphs">0.8</text>
<text x="360.850" y="109.700" font-size="21.004" textLength="30.237" lengthAdjust="spacingAndGlyphs">0.6</text>
<text x="360.850" y="153.300" font-size="21.004" textLength="29.976" lengthAdjust="spacingAndGlyphs">0.4</text>
<text x="360.850" y="196.900" font-size="21.004" textLength="30.235" lengthAdjust="spacingAndGlyphs">0.2</text>
<text x="378.200" y="240.500" font-size="21.004" textLength="12.911" lengthAdjust="spacingAndGlyphs">0</text>
<text x="58.550" y="272.025" font-size="20.654" textLength="37.439" lengthAdjust="spacingAndGlyphs">900</text>
<text x="114.350" y="272.025" font-size="20.654" textLength="48.532" lengthAdjust="spacingAndGlyphs">1100</text>
<text x="175.800" y="272.025" font-size="20.654" textLength="48.527" lengthAdjust="spacingAndGlyphs">1300</text>
<text x="237.500" y="272.025" font-size="20.654" textLength="48.527" lengthAdjust="spacingAndGlyphs">1500</text>
<text x="298.950" y="272.025" font-size="20.654" textLength="48.527" lengthAdjust="spacingAndGlyphs">1700</text>
<text x="395.150" y="272.025" font-size="20.654" textLength="37.441" lengthAdjust="spacingAndGlyphs">900</text>
<text x="450.950" y="272.025" font-size="20.654" textLength="48.529" lengthAdjust="spacingAndGlyphs">1100</text>
<text x="512.400" y="272.025" font-size="20.654" textLength="48.527" lengthAdjust="spacingAndGlyphs">1300</text>
<text x="574.100" y="272.025" font-size="20.654" textLength="48.527" lengthAdjust="spacingAndGlyphs">1500</text>
<text x="635.550" y="272.025" font-size="20.654" textLength="48.527" lengthAdjust="spacingAndGlyphs">1700</text>
<text x="116.950" y="291.800" font-size="21.540" textLength="167.948" lengthAdjust="spacingAndGlyphs">Wavelength (nm)</text>
<text x="452.350" y="291.800" font-size="21.540" textLength="169.548" lengthAdjust="spacingAndGlyphs">Wavelength (nm)</text>
<text transform="translate(18.575,188.200) rotate(-90)" x="0" y="0" font-size="21.341" textLength="127.000" lengthAdjust="spacingAndGlyphs">Transmission</text>
<text transform="translate(355.000,178.000) rotate(-90)" x="0" y="0" font-size="22.077" textLength="108.493" lengthAdjust="spacingAndGlyphs">Absorption</text>
<text transform="translate(191.625,539.250) rotate(-90)" x="0" y="0" font-size="22.349" textLength="216.268" lengthAdjust="spacingAndGlyphs">Peak wavelength (nm)</text>
<text x="358.550" y="595.000" font-size="18.854" textLength="71.458" lengthAdjust="spacingAndGlyphs">Δ<tspan font-style="italic">l</tspan> (nm)</text>
<text x="97.750" y="37.200" font-size="22.379" textLength="18.912" lengthAdjust="spacingAndGlyphs">Δ<tspan font-style="italic">l</tspan></text>
<text x="84.100" y="65.750" font-size="22.620" textLength="45.902" lengthAdjust="spacingAndGlyphs">(nm)</text>
<text x="173.650" y="36.450" font-size="20.302" textLength="11.920" lengthAdjust="spacingAndGlyphs">0</text>
<text x="244.200" y="36.450" font-size="20.302" textLength="23.902" lengthAdjust="spacingAndGlyphs">26</text>
<text x="173.400" y="66.650" font-size="21.004" textLength="24.334" lengthAdjust="spacingAndGlyphs">54</text>
<text x="244.200" y="66.525" font-size="20.654" textLength="23.905" lengthAdjust="spacingAndGlyphs">82</text>
<text x="587.650" y="41.200" font-size="22.079" textLength="71.500" lengthAdjust="spacingAndGlyphs">Δ<tspan font-style="italic">l</tspan> (nm)</text>
<text x="626.250" y="68.750" font-size="20.300" textLength="11.324" lengthAdjust="spacingAndGlyphs">0</text>
<text x="624.950" y="98.750" font-size="21.702" textLength="25.475" lengthAdjust="spacingAndGlyphs">26</text>
<text x="625.200" y="127.825" font-size="21.356" textLength="24.933" lengthAdjust="spacingAndGlyphs">54</text>
<text x="625.200" y="157.150" font-size="21.000" textLength="25.475" lengthAdjust="spacingAndGlyphs">82</text>
<text x="197.750" y="373.450" font-size="21.000" textLength="48.629" lengthAdjust="spacingAndGlyphs">1400</text>
<text x="197.750" y="431.350" font-size="21.000" textLength="48.629" lengthAdjust="spacingAndGlyphs">1360</text>
<text x="197.750" y="489.250" font-size="21.000" textLength="48.629" lengthAdjust="spacingAndGlyphs">1320</text>
<text x="197.750" y="547.250" font-size="21.000" textLength="48.629" lengthAdjust="spacingAndGlyphs">1280</text>
<text x="263.400" y="578.650" font-size="21.703" textLength="12.209" lengthAdjust="spacingAndGlyphs">0</text>
<text x="312.880" y="578.650" font-size="21.703" textLength="24.000" lengthAdjust="spacingAndGlyphs">20</text>
<text x="369.110" y="578.650" font-size="21.703" textLength="23.212" lengthAdjust="spacingAndGlyphs">40</text>
<text x="424.090" y="578.650" font-size="21.703" textLength="24.003" lengthAdjust="spacingAndGlyphs">60</text>
<text x="479.820" y="578.650" font-size="21.703" textLength="23.730" lengthAdjust="spacingAndGlyphs">80</text>
<text x="275.700" y="492.325" font-size="18.991" textLength="153.994" lengthAdjust="spacingAndGlyphs">QD emission peak</text></g></svg></body></html>
